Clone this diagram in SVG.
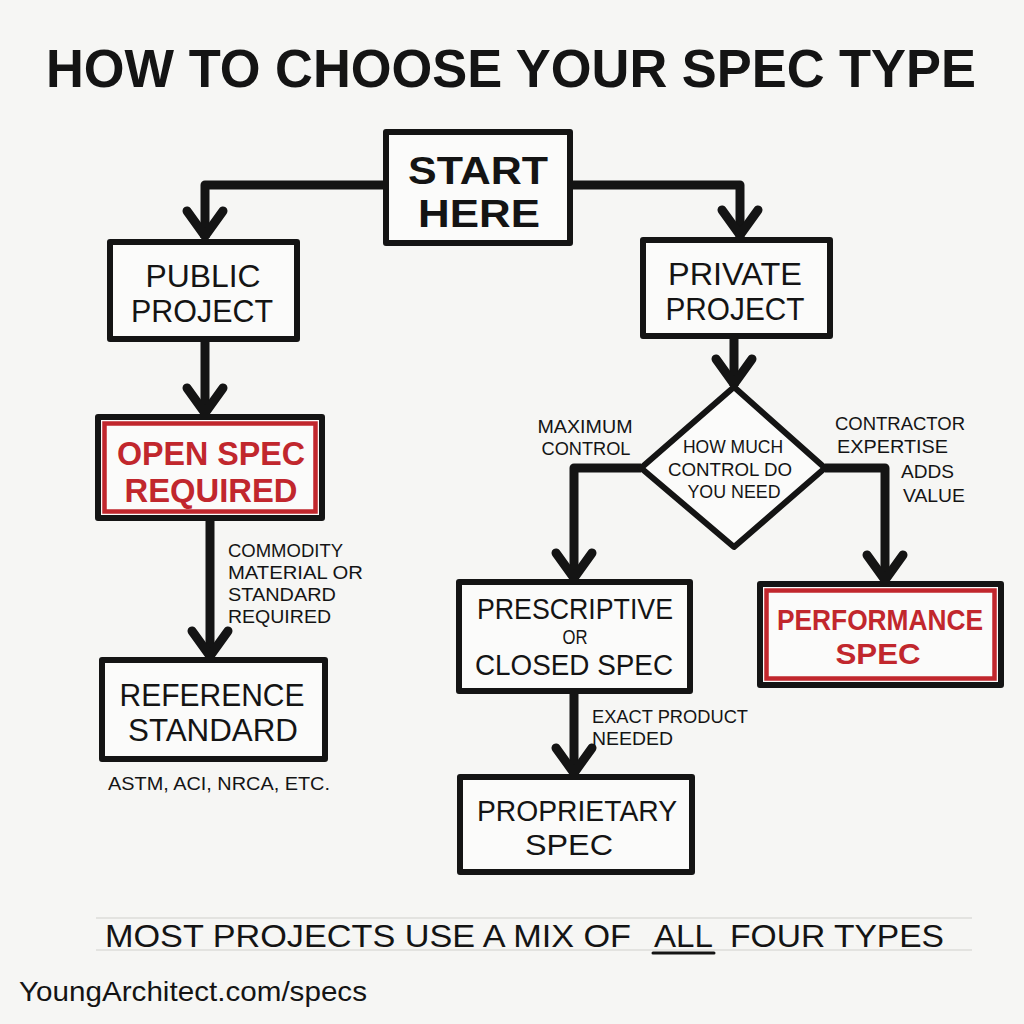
<svg xmlns="http://www.w3.org/2000/svg" width="1024" height="1024" viewBox="0 0 1024 1024">
<defs>
<style>
.t{font-family:"Liberation Sans",Arial,sans-serif;fill:#141414;text-anchor:middle}
.b{font-weight:bold}
.red{fill:#c1272d;font-weight:bold}
.l{font-family:"Liberation Sans",Arial,sans-serif;fill:#141414;font-size:19px;text-anchor:start}
.lc{font-family:"Liberation Sans",Arial,sans-serif;fill:#141414;font-size:19px;text-anchor:middle}
.box{fill:#fbfbfa;stroke:#141414;stroke-width:6;stroke-linejoin:round}
.inner{fill:none;stroke:#c1272d;stroke-width:4.5}
.con{fill:none;stroke:#141414;stroke-width:9;stroke-linejoin:round}
.guide{stroke:#cfcfcc;stroke-width:1.2;fill:none}
</style>
<marker id="arr" markerUnits="userSpaceOnUse" orient="auto" overflow="visible" markerWidth="40" markerHeight="40" refX="0" refY="0">
<path d="M -27 -18 L -2 0 L -27 18" fill="none" stroke="#141414" stroke-width="9" stroke-linecap="round" stroke-linejoin="round"/>
</marker>
</defs>
<rect width="1024" height="1024" fill="#f6f6f4"/>

<g id="guides">
<line class="guide" x1="96" y1="918" x2="972" y2="918"/>
<line class="guide" x1="96" y1="950" x2="972" y2="950"/>
</g>

<text class="t b" x="511" y="87" font-size="54" textLength="930" lengthAdjust="spacingAndGlyphs">HOW TO CHOOSE YOUR SPEC TYPE</text>

<g id="connectors">
<path class="con" d="M 386 185 H 205 V 238" marker-end="url(#arr)"/>
<path class="con" d="M 570 185 H 740 V 237" marker-end="url(#arr)"/>
<path class="con" d="M 205 340 V 415" marker-end="url(#arr)"/>
<path class="con" d="M 210 518 V 658" marker-end="url(#arr)"/>
<path class="con" d="M 734 336 V 386" marker-end="url(#arr)"/>
<path class="con" d="M 641 468 H 574 V 580" marker-end="url(#arr)"/>
<path class="con" d="M 825 468 H 885 V 582" marker-end="url(#arr)"/>
<path class="con" d="M 574 692 V 775" marker-end="url(#arr)"/>
</g>

<g id="start">
<rect class="box" x="386" y="132" width="184" height="111"/>
<text class="t b" x="478" y="184" font-size="38" textLength="140" lengthAdjust="spacingAndGlyphs">START</text>
<text class="t b" x="479" y="227" font-size="38" textLength="122" lengthAdjust="spacingAndGlyphs">HERE</text>
</g>

<g id="public">
<rect class="box" x="110" y="242" width="187" height="97"/>
<text class="t" x="203" y="287" font-size="31" textLength="115" lengthAdjust="spacingAndGlyphs">PUBLIC</text>
<text class="t" x="202" y="322" font-size="31" textLength="142" lengthAdjust="spacingAndGlyphs">PROJECT</text>
</g>

<g id="private">
<rect class="box" x="643" y="240" width="187" height="96"/>
<text class="t" x="735" y="285" font-size="31" textLength="134" lengthAdjust="spacingAndGlyphs">PRIVATE</text>
<text class="t" x="735" y="320" font-size="31" textLength="139" lengthAdjust="spacingAndGlyphs">PROJECT</text>
</g>

<g id="open-spec">
<rect class="box" x="98" y="417" width="224" height="101"/>
<rect class="inner" x="104.5" y="423.5" width="211" height="88"/>
<text class="t red" x="211" y="465" font-size="33" textLength="188" lengthAdjust="spacingAndGlyphs">OPEN SPEC</text>
<text class="t red" x="211" y="502" font-size="33" textLength="173" lengthAdjust="spacingAndGlyphs">REQUIRED</text>
</g>

<g id="commodity-label">
<text class="l" x="228" y="557" textLength="115" lengthAdjust="spacingAndGlyphs">COMMODITY</text>
<text class="l" x="228" y="579" textLength="135" lengthAdjust="spacingAndGlyphs">MATERIAL OR</text>
<text class="l" x="228" y="601" textLength="108" lengthAdjust="spacingAndGlyphs">STANDARD</text>
<text class="l" x="228" y="623" textLength="103" lengthAdjust="spacingAndGlyphs">REQUIRED</text>
</g>

<g id="reference">
<rect class="box" x="102" y="660" width="223" height="99"/>
<text class="t" x="212" y="706" font-size="31" textLength="185" lengthAdjust="spacingAndGlyphs">REFERENCE</text>
<text class="t" x="213" y="741" font-size="31" textLength="170" lengthAdjust="spacingAndGlyphs">STANDARD</text>
<text class="l" x="108" y="790" textLength="222" lengthAdjust="spacingAndGlyphs">ASTM, ACI, NRCA, ETC.</text>
</g>

<g id="decision">
<polygon points="734,387 825,468 734,547 641,468" fill="#fbfbfa" stroke="#141414" stroke-width="6" stroke-linejoin="round"/>
<text class="lc" x="733" y="453" textLength="100" lengthAdjust="spacingAndGlyphs">HOW MUCH</text>
<text class="lc" x="730" y="476" textLength="124" lengthAdjust="spacingAndGlyphs">CONTROL DO</text>
<text class="lc" x="734" y="498" textLength="93" lengthAdjust="spacingAndGlyphs">YOU NEED</text>
</g>

<g id="branch-labels">
<text class="lc" x="585" y="433" textLength="95" lengthAdjust="spacingAndGlyphs">MAXIMUM</text>
<text class="lc" x="586" y="455" textLength="89" lengthAdjust="spacingAndGlyphs">CONTROL</text>
<text class="l" x="835" y="430" textLength="130" lengthAdjust="spacingAndGlyphs">CONTRACTOR</text>
<text class="l" x="837" y="453" textLength="111" lengthAdjust="spacingAndGlyphs">EXPERTISE</text>
<text class="l" x="901" y="478" textLength="53" lengthAdjust="spacingAndGlyphs">ADDS</text>
<text class="l" x="903" y="502" textLength="62" lengthAdjust="spacingAndGlyphs">VALUE</text>
</g>

<g id="prescriptive">
<rect class="box" x="459" y="582" width="231" height="109"/>
<text class="t" x="575" y="619" font-size="29" textLength="196" lengthAdjust="spacingAndGlyphs">PRESCRIPTIVE</text>
<text class="t" x="575" y="644" font-size="20" textLength="25" lengthAdjust="spacingAndGlyphs">OR</text>
<text class="t" x="574" y="675" font-size="29" textLength="198" lengthAdjust="spacingAndGlyphs">CLOSED SPEC</text>
</g>

<g id="performance">
<rect class="box" x="760" y="584" width="241" height="101"/>
<rect class="inner" x="766.5" y="590.5" width="228" height="88"/>
<text class="t red" x="880" y="630" font-size="30" textLength="206" lengthAdjust="spacingAndGlyphs">PERFORMANCE</text>
<text class="t red" x="878" y="664" font-size="30" textLength="85" lengthAdjust="spacingAndGlyphs">SPEC</text>
</g>

<g id="exact-label">
<text class="l" x="592" y="723" textLength="156" lengthAdjust="spacingAndGlyphs">EXACT PRODUCT</text>
<text class="l" x="592" y="745" textLength="81" lengthAdjust="spacingAndGlyphs">NEEDED</text>
</g>

<g id="proprietary">
<rect class="box" x="460" y="777" width="232" height="95"/>
<text class="t" x="577" y="821" font-size="30" textLength="200" lengthAdjust="spacingAndGlyphs">PROPRIETARY</text>
<text class="t" x="569" y="855" font-size="30" textLength="88" lengthAdjust="spacingAndGlyphs">SPEC</text>
</g>

<g id="footer">
<text class="l" x="105" y="947" style="font-size:32px" textLength="526" lengthAdjust="spacingAndGlyphs">MOST PROJECTS USE A MIX OF</text>
<text class="l" x="654" y="947" style="font-size:32px" textLength="59" lengthAdjust="spacingAndGlyphs">ALL</text>
<line x1="653" y1="953" x2="714" y2="953" stroke="#141414" stroke-width="3" stroke-linecap="round"/>
<text class="l" x="730" y="947" style="font-size:32px" textLength="214" lengthAdjust="spacingAndGlyphs">FOUR TYPES</text>
<text class="l" x="19" y="1001" style="font-size:28px" textLength="348" lengthAdjust="spacingAndGlyphs">YoungArchitect.com/specs</text>
</g>
</svg>
